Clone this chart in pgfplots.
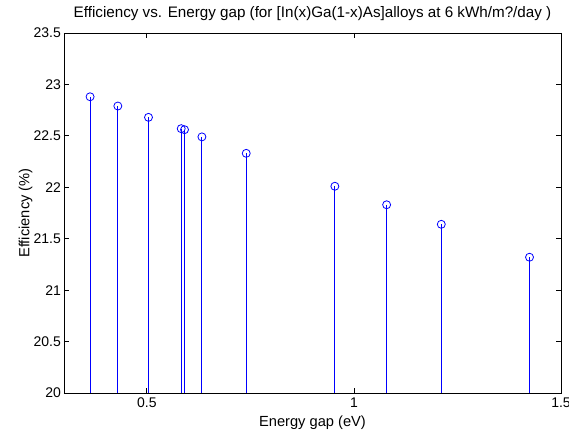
\documentclass[border=0pt]{standalone}
\usepackage{pgfplots}
\pgfplotsset{compat=1.18}
\usepackage{fontspec}
\setmainfont{Liberation Sans}
\begin{document}
\begin{tikzpicture}
\path[use as bounding box, fill=white] (-48pt,-29.25pt) rectangle (378.75pt,294.75pt);
\begin{axis}[
  at={(0,0)}, anchor=south west,
  scale only axis, width=372.75pt, height=270pt,
  xmin=0.3, xmax=1.5, ymin=20, ymax=23.5,
  xtick={0.5,1,1.5},
  ytick={20,20.5,21,21.5,22,22.5,23,23.5},
  tick align=inside, major tick length=3.75pt,
  xtick pos=both, ytick pos=both,
  axis line style={line width=0.6pt},
  every tick/.style={black, line width=0.6pt},
  /pgf/number format/assume math mode=true,
  tick label style={font=\fontsize{10.5}{12}\selectfont},
  label style={font=\fontsize{11}{13}\selectfont},
  title style={font=\fontsize{11.4}{13}\selectfont, at={(axis description cs:0.5,1.0222)}, anchor=base},
  title={Efficiency vs. Energy gap (for [In(x)Ga(1-x)As]alloys at 6 kWh/m?/day )},
  xlabel={Energy gap (eV)},
  ylabel={Efficiency (\%)},
  xlabel style={at={(axis description cs:0.5,-0.0944)}, anchor=base},
  ylabel style={at={(axis description cs:-0.0698,0.5)}, anchor=base, rotate=0},
  yticklabel style={anchor=east, xshift=1.2pt},
  xticklabel style={anchor=base, yshift=-11.25pt},
]
\addplot[blue, line width=0.75pt, ycomb, mark=o, mark size=3pt, mark options={solid, line width=0.6pt}] coordinates {
(0.363,22.88)
(0.430,22.79)
(0.504,22.68)
(0.583,22.57)
(0.591,22.56)
(0.633,22.49)
(0.740,22.33)
(0.954,22.01)
(1.079,21.83)
(1.211,21.64)
(1.424,21.32)
};
\end{axis}
\end{tikzpicture}
\end{document}
